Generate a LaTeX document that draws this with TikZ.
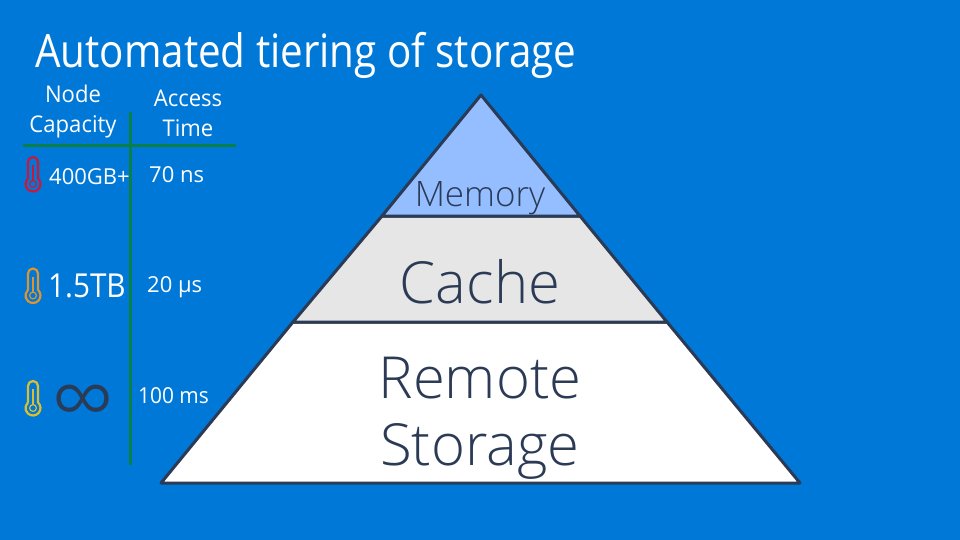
\documentclass[tikz,border=0pt]{standalone}
\usepackage{fontspec}
\setmainfont{Open Sans}
\newfontfamily\lightfont{Open Sans Light}
\definecolor{slideblue}{HTML}{0078D7}
\definecolor{rulegreen}{HTML}{0B7F4A}
\definecolor{pyrline}{HTML}{2B3A55}
\definecolor{memfill}{HTML}{94BEFF}
\definecolor{cachefill}{HTML}{E6E6E6}
\definecolor{hotred}{HTML}{C8193C}
\definecolor{warmorange}{HTML}{DE9430}
\definecolor{coolyellow}{HTML}{DDBE2E}
\tikzset{
  head/.style={text=white,align=center,font=\fontsize{23}{31}\selectfont,inner sep=0pt,xscale=0.96},
  val/.style={text=white,inner sep=0pt,font=\fontsize{22}{26}\selectfont},
  tier/.style={text=pyrline,align=center,inner sep=0pt},
  pyr/.style={draw=pyrline,line width=3pt,line join=round},
  gridline/.style={rulegreen,line width=3pt},
  pics/thermo/.style={code={
    \draw[#1,line width=2.2pt]
      (-5,4.4) -- (-5,-12) arc (180:360:5) -- (5,4.4) arc (-48:228:7.5);
    \draw[#1,line width=1.2pt] (0,-9) -- (0,7);
    \draw[#1,line width=1.2pt] (0,10) circle (3.4);
  }}
}
\begin{document}
\begin{tikzpicture}[x=1pt,y=-1pt]
  \fill[slideblue] (0,0) rectangle (960,540);
  \useasboundingbox (0,0) rectangle (960,540);

  \node[anchor=west,text=white,inner sep=0pt,font=\fontsize{46}{50}\selectfont,xscale=0.877] (title) at (35,55) {Automated tiering of storage};

  % left table
  \node[head] (capacity) at (73,112) {Node\\[-1pt]Capacity};
  \node[head] (access) at (188,113) {Access\\[-1pt]Time};
  \coordinate (hl) at (23,146);
  \coordinate (hr) at (236,146);
  \coordinate (vt) at (130,112);
  \coordinate (vb) at (130,465);
  \draw[gridline] (hl) -- (hr);
  \draw[gridline] (vt) -- (vb);

  \pic at (33,174) {thermo=hotred};
  \pic at (33,285.5) {thermo=warmorange};
  \pic at (33,398) {thermo=coolyellow};

  \node[val,anchor=west] (cap1) at (49,177) {400GB+};
  \node[val,anchor=west,xscale=0.9,font=\fontsize{33}{38}\selectfont] (cap2) at (48,286) {1.5TB};
  \node[text=pyrline,inner sep=0pt,font=\lightfont\fontsize{90}{90}\selectfont] (cap3) at (83,408) {∞};
  \node[val,anchor=west] (time1) at (149,175) {70 ns};
  \node[val,anchor=west] (time2) at (147,287) {20 µs};
  \node[val,anchor=west,xscale=0.95] (time3) at (138,396) {100 ms};

  % pyramid
  \coordinate (apex) at (481,95);
  \coordinate (ml) at (382,216);
  \coordinate (mr) at (580,216);
  \coordinate (cl) at (293,322);
  \coordinate (cr) at (667,322);
  \coordinate (bl) at (161,483);
  \coordinate (br) at (800,483);
  \draw[pyr,fill=white] (cl) -- (cr) -- (br) -- (bl) -- cycle;
  \draw[pyr,fill=cachefill] (ml) -- (mr) -- (cr) -- (cl) -- cycle;
  \draw[pyr,fill=memfill] (apex) -- (mr) -- (ml) -- cycle;

  \node[tier,font=\lightfont\fontsize{35}{40}\selectfont] (memory) at (480,198) {Memory};
  \node[tier,font=\lightfont\fontsize{58}{60}\selectfont] (cache) at (480,282) {Cache};
  \node[tier,font=\lightfont\fontsize{58}{67}\selectfont] (remote) at (480,418) {Remote\\Storage};
\end{tikzpicture}
\end{document}
